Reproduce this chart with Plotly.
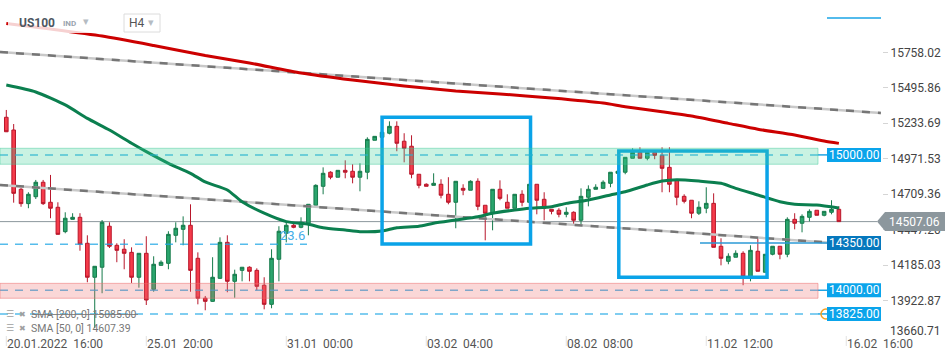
import plotly.graph_objects as go

# ---------------- data ----------------
opens = [15278, 15184, 14746, 14640, 14691, 14798, 14650, 14613, 14433, 14524,
         14539, 14347, 14096, 14170, 14473, 14332, 14303, 14280, 14096, 14273,
         14007, 14184, 14199, 14406, 14450, 14480, 14236, 13941, 13918, 14088,
         14354, 14066, 14147, 14170, 14147, 14037, 13896, 14229, 14421, 14480,
         14465, 14495, 14628, 14768, 14872, 14835, 14886, 14879, 14835, 14872,
         15108, 15130, 15160, 15211, 15101, 15064, 14857, 14783, 14775, 14783,
         14709, 14650, 14753, 14739, 14805, 14628, 14569, 14746, 14650, 14606,
         14709, 14650, 14783, 14672, 14598, 14591, 14561, 14576, 14517, 14687,
         14746, 14753, 14790, 14864, 14872, 14975, 15019, 14975, 15019, 14997,
         14908, 14812, 14694, 14665, 14569, 14606, 14642, 14325, 14214, 14244,
         14273, 14100, 14288, 14133, 14266, 14325, 14266, 14524, 14495, 14539,
         14591, 14554, 14576, 14598]
highs = [15332, 15228, 14756, 14724, 14815, 14815, 14852, 14650, 14576, 14569,
         14569, 14406, 14177, 14519, 14502, 14347, 14377, 14317, 14273, 14399,
         14251, 14221, 14436, 14502, 14546, 14635, 14280, 13958, 14244, 14391,
         14406, 14152, 14170, 14177, 14162, 14096, 14303, 14473, 14502, 14495,
         14539, 14635, 14783, 14908, 14879, 14886, 14960, 14931, 14938, 15130,
         15137, 15167, 15248, 15248, 15160, 15145, 14857, 14790, 14864, 14820,
         14835, 14805, 14783, 14812, 14827, 14628, 14746, 14812, 14709, 14709,
         14739, 14783, 14783, 14724, 14598, 14606, 14613, 14583, 14753, 14775,
         14783, 14812, 14872, 14879, 14982, 15049, 15056, 15019, 15019, 15056,
         15056, 14812, 14709, 14665, 14657, 14761, 14716, 14384, 14273, 14295,
         14288, 14332, 14384, 14266, 14325, 14325, 14539, 14569, 14561, 14598,
         14591, 14583, 14665, 14620]
lows = [15169, 14647, 14617, 14606, 14674, 14630, 14532, 14413, 14421, 14524,
        14292, 14059, 13721, 13978, 14312, 14207, 14155, 14054, 14019, 13891,
        13989, 14184, 14155, 14354, 14332, 13989, 13896, 13852, 13915, 14085,
        13985, 13945, 14066, 14066, 14000, 13859, 13867, 14066, 14354, 14458,
        14458, 14406, 14625, 14709, 14820, 14835, 14827, 14790, 14731, 14820,
        15108, 15130, 15152, 15027, 14945, 14827, 14753, 14768, 14775, 14679,
        14635, 14458, 14702, 14739, 14591, 14369, 14443, 14665, 14606, 14606,
        14620, 14650, 14561, 14517, 14561, 14539, 14539, 14487, 14487, 14620,
        14746, 14753, 14761, 14864, 14857, 14975, 14975, 14960, 14968, 14724,
        14724, 14628, 14642, 14532, 14556, 14569, 14317, 14184, 14192, 14244,
        14037, 14066, 14140, 14133, 14258, 14229, 14244, 14450, 14428, 14509,
        14554, 14546, 14561, 14507]
closes = [15171, 14716, 14640, 14709, 14798, 14640, 14606, 14413, 14532, 14539,
          14340, 14096, 14177, 14502, 14325, 14295, 14273, 14096, 14273, 13928,
          14192, 14207, 14413, 14458, 14480, 14147, 13941, 13918, 14096, 14354,
          14066, 14118, 14170, 14140, 14029, 13896, 14236, 14436, 14480, 14465,
          14502, 14635, 14775, 14864, 14835, 14886, 14872, 14835, 14879, 15115,
          15137, 15167, 15211, 15086, 15049, 14857, 14775, 14768, 14790, 14702,
          14650, 14805, 14739, 14805, 14620, 14569, 14746, 14679, 14606, 14709,
          14650, 14783, 14665, 14606, 14583, 14561, 14576, 14517, 14694, 14746,
          14761, 14798, 14872, 14879, 14982, 15019, 14975, 15019, 14997, 14901,
          14783, 14687, 14657, 14569, 14613, 14642, 14317, 14236, 14251, 14273,
          14100, 14295, 14140, 14266, 14325, 14266, 14524, 14495, 14546, 14583,
          14554, 14583, 14598, 14507.06]

sma200_idx = [0, 6, 13, 20, 27, 33, 40, 47, 54, 61, 67, 74, 81, 84, 89, 93, 98, 102, 107, 111, 113]
sma200_val = [15971, 15930, 15878, 15808, 15734, 15679, 15605, 15553, 15509, 15472, 15450,
              15420, 15383, 15356, 15319, 15287, 15233, 15190, 15147, 15103, 15085]
sma50_idx = [0, 4, 8, 11, 14, 17, 19, 22, 25, 27, 30, 32, 35, 38, 41, 43, 46, 48, 51, 53, 56,
             58, 61, 64, 66, 69, 71, 74, 76, 79, 82, 84, 87, 89, 91, 94, 97, 99, 102, 105,
             107, 110, 113]
sma50_val = [15516, 15465, 15369, 15270, 15184, 15086, 15024, 14938, 14864, 14800, 14741,
             14654, 14569, 14507, 14487, 14462, 14445, 14433, 14438, 14462, 14473, 14495,
             14519, 14543, 14569, 14593, 14606, 14617, 14642, 14667, 14704, 14728, 14778,
             14807, 14817, 14807, 14790, 14753, 14704, 14654, 14635, 14630, 14607.39]

trend_upper_x = [-0.855, 118.7]
trend_upper_y = [15760, 15310]
trend_lower_x = [-0.855, 111.4]
trend_lower_y = [14778, 14353]

box1_idx = [51.0, 71.15]
box1_price = [15278, 14342]
box2_idx = [83.13, 103.25]
box2_price = [15029, 14096]

zone_res = [14931, 15049]
zone_sup = [13941, 14051]
level_values = [15000, 14350, 14000, 13825]
fib_level = 14339.5
last_price = 14507.06

y_ticks = [15758.02, 15495.86, 15233.69, 14971.53, 14709.36, 14447.20, 14185.03, 13922.87]
y_bottom_tick = 13660.71
x_label_idx = [0, 19, 38, 57, 76, 95, 114]
x_labels = ["20.01.2022\u00a0\u00a016:00", "25.01\u00a0\u00a020:00", "31.01\u00a0\u00a000:00",
            "03.02\u00a0\u00a004:00", "08.02\u00a0\u00a008:00", "11.02\u00a0\u00a012:00",
            "16.02\u00a0\u00a016:00"]

# ---------------- layout geometry ----------------
W, H = 950, 361
PR, PB = 68, 25
PW, PH = W - PR, H - PB
Y0, Y1 = 13662.0, 16144.4
X0 = -0.855
X1 = X0 + PW / 7.368
UPP = (Y1 - Y0) / PH  # price units per pixel


def px(xp):
    return xp / PW


def py(yp):
    return 1 - yp / PH


idx = list(range(len(opens)))
fig = go.Figure()

# trend lines (grey base + dark dashes)
for tx, ty in [(trend_upper_x, trend_upper_y), (trend_lower_x, trend_lower_y)]:
    fig.add_trace(go.Scatter(x=tx, y=ty, mode="lines", line=dict(color="#c9c9c9", width=2.5),
                             hoverinfo="skip", showlegend=False))
    fig.add_trace(go.Scatter(x=tx, y=ty, mode="lines",
                             line=dict(color="#767676", width=2.5, dash="8px,8px"),
                             hoverinfo="skip", showlegend=False))

fig.add_trace(go.Candlestick(
    x=idx, open=opens, high=highs, low=lows, close=closes,
    increasing=dict(line=dict(color="#167a4b", width=1), fillcolor="#2aa56d"),
    decreasing=dict(line=dict(color="#b8172b", width=1), fillcolor="#f53b4a"),
    whiskerwidth=0, hoverinfo="skip", showlegend=False))

fig.add_trace(go.Scatter(x=sma200_idx, y=sma200_val, mode="lines",
                         line=dict(color="#cc0000", width=3, shape="spline", smoothing=0.6),
                         hoverinfo="skip", showlegend=False))
fig.add_trace(go.Scatter(x=sma50_idx, y=sma50_val, mode="lines",
                         line=dict(color="#0b7f4f", width=3, shape="spline", smoothing=0.6),
                         hoverinfo="skip", showlegend=False))

shapes = []
# current price line
shapes.append(dict(type="line", xref="paper", yref="y", x0=0, x1=px(877), y0=last_price, y1=last_price,
                   line=dict(color="#8c979d", width=1), layer="below"))
# blue drawing rectangles
for bx, bp in [(box1_idx, box1_price), (box2_idx, box2_price)]:
    shapes.append(dict(type="rect", xref="x", yref="y", x0=bx[0], x1=bx[1], y0=bp[1], y1=bp[0],
                       line=dict(color="#0aa3e8", width=3.5), layer="above"))
# dashed levels
dash_col = "rgba(30,165,228,0.75)"
for lv in [level_values[0], level_values[2], level_values[3]]:
    shapes.append(dict(type="line", xref="paper", yref="y", x0=0, x1=px(818), y0=lv, y1=lv,
                       line=dict(color=dash_col, width=1.5, dash="8px,7px"), layer="above"))
    shapes.append(dict(type="line", xref="paper", yref="y", x0=px(818), x1=px(827), y0=lv, y1=lv,
                       line=dict(color="#1ea5e4", width=1.5), layer="above"))
shapes.append(dict(type="line", xref="paper", yref="y", x0=0, x1=px(307), y0=fib_level, y1=fib_level,
                   line=dict(color=dash_col, width=1.5, dash="8px,7px"), layer="above"))
shapes.append(dict(type="line", xref="paper", yref="y", x0=px(700), x1=px(827),
                   y0=level_values[1], y1=level_values[1],
                   line=dict(color="#2b9ad6", width=1.5), layer="above"))
# zones
shapes.append(dict(type="rect", xref="paper", yref="y", x0=0, x1=px(818), y0=zone_res[0], y1=zone_res[1],
                   fillcolor="rgba(60,208,152,0.28)", line=dict(color="rgba(60,200,150,0.45)", width=1),
                   layer="above"))
shapes.append(dict(type="rect", xref="paper", yref="y", x0=0, x1=px(818), y0=zone_sup[0], y1=zone_sup[1],
                   fillcolor="rgba(238,110,110,0.28)", line=dict(color="rgba(238,110,110,0.5)", width=1),
                   layer="above"))
# orange marker near 13825
shapes.append(dict(type="circle", xref="paper", yref="paper", x0=px(821), x1=px(831), y0=py(319), y1=py(309),
                   line=dict(color="#f5a020", width=1.5), layer="above"))
# level label boxes
box_cols = ["#0aa4eb", "#0678bd", "#0aa4eb", "#0aa4eb"]
for lv, bc in zip(level_values, box_cols):
    shapes.append(dict(type="rect", xref="paper", yref="y", x0=px(827), x1=px(881),
                       y0=lv - 7 * UPP, y1=lv + 7 * UPP, fillcolor=bc, line=dict(width=0), layer="above"))
# top-right short blue line
shapes.append(dict(type="line", xref="paper", yref="paper", x0=px(827), x1=px(881), y0=py(18), y1=py(18),
                   line=dict(color="#1aa5e6", width=1.5), layer="above"))
# current price tag
lp_y = 221.6
tag_path = (f"M {px(877)},{py(lp_y)} L {px(885)},{py(lp_y-9.5)} L {px(945)},{py(lp_y-9.5)} "
            f"L {px(945)},{py(lp_y+9.5)} L {px(885)},{py(lp_y+9.5)} Z")
shapes.append(dict(type="path", xref="paper", yref="paper", path=tag_path,
                   fillcolor="#8c979d", line=dict(width=0), layer="above"))
# header backdrop and H4 box
shapes.append(dict(type="rect", xref="paper", yref="paper", x0=px(8), x1=px(95), y0=py(33), y1=py(13),
                   fillcolor="rgba(255,255,255,0.82)", line=dict(width=0), layer="above"))
shapes.append(dict(type="rect", xref="paper", yref="paper", x0=px(124), x1=px(160), y0=py(32), y1=py(14),
                   fillcolor="white", line=dict(color="#dcdcdc", width=1), layer="above"))
# strike line on SMA200 legend
shapes.append(dict(type="line", xref="paper", yref="paper", x0=px(32), x1=px(138), y0=py(314.5), y1=py(314.5),
                   line=dict(color="#8a8a8a", width=1), layer="above"))
# x tick marks
for i in x_label_idx:
    xp = 6.3 + 7.368 * i
    shapes.append(dict(type="line", xref="paper", yref="paper", x0=px(xp), x1=px(xp), y0=py(336), y1=py(346),
                       line=dict(color="#e2e2e2", width=1), layer="above"))

ann = []
F = "Roboto"
for lv in level_values:
    ann.append(dict(xref="paper", yref="y", x=px(854), y=lv, text=f"{lv:.2f}", showarrow=False,
                    font=dict(family=F, size=12, color="white"), xanchor="center", yanchor="middle"))
ann.append(dict(xref="paper", yref="paper", x=px(914), y=py(lp_y), text=f"{last_price:.2f}", showarrow=False,
                font=dict(family=F, size=12, color="white"), xanchor="center", yanchor="middle"))
ann.append(dict(xref="paper", yref="paper", x=px(888), y=py(331), text=f"{y_bottom_tick:.2f}", showarrow=False,
                font=dict(family=F, size=12, color="#444"), xanchor="left", yanchor="middle"))
for i, lab in zip(x_label_idx, x_labels):
    xp = 6.3 + 7.368 * i
    ann.append(dict(xref="paper", yref="paper", x=px(xp - 1), y=py(344), text=lab, showarrow=False,
                    font=dict(family=F, size=12, color="#555"), xanchor="left", yanchor="middle"))
ann.append(dict(xref="paper", yref="paper", x=px(278), y=py(236), text="23.6", showarrow=False,
                font=dict(family=F, size=13, color="#45aee8"), xanchor="left", yanchor="middle"))
ann.append(dict(xref="paper", yref="paper", x=px(17), y=py(23), text="<b>US100</b>", showarrow=False,
                font=dict(family=F, size=12, color="#4d5761"), xanchor="left", yanchor="middle"))
ann.append(dict(xref="paper", yref="paper", x=px(61), y=py(24), text="<b>IND</b>", showarrow=False,
                font=dict(family=F, size=8, color="#9aa4ae"), xanchor="left", yanchor="middle"))
ann.append(dict(xref="paper", yref="paper", x=px(81), y=py(22), text="▾", showarrow=False,
                font=dict(family="DejaVu Sans", size=11, color="#b5bcc3"), xanchor="left", yanchor="middle"))
ann.append(dict(xref="paper", yref="paper", x=px(127), y=py(23), text="H4", showarrow=False,
                font=dict(family=F, size=12, color="#555"), xanchor="left", yanchor="middle"))
ann.append(dict(xref="paper", yref="paper", x=px(146), y=py(23), text="▾", showarrow=False,
                font=dict(family="DejaVu Sans", size=11, color="#b5bcc3"), xanchor="left", yanchor="middle"))
for yy, txt in [(314, "SMA [200, 0] 15085.00"), (328, "SMA [50, 0] 14607.39")]:
    ann.append(dict(xref="paper", yref="paper", x=px(4), y=py(yy), text="☰", showarrow=False,
                    font=dict(family="DejaVu Sans", size=9, color="#a0a0a0"), xanchor="left", yanchor="middle"))
    ann.append(dict(xref="paper", yref="paper", x=px(17), y=py(yy), text="✖", showarrow=False,
                    font=dict(family="DejaVu Sans", size=8, color="#a0a0a0"), xanchor="left", yanchor="middle"))
    ann.append(dict(xref="paper", yref="paper", x=px(29), y=py(yy), text=txt, showarrow=False,
                    font=dict(family=F, size=10.5, color="#777"), xanchor="left", yanchor="middle"))

fig.update_layout(
    width=W, height=H, margin=dict(l=0, r=PR, t=0, b=PB),
    paper_bgcolor="white", plot_bgcolor="white",
    showlegend=False, shapes=shapes, annotations=ann,
    xaxis=dict(range=[X0, X1], showgrid=False, zeroline=False, showticklabels=False, ticks="",
               rangeslider=dict(visible=False), fixedrange=True),
    yaxis=dict(range=[Y0, Y1], side="right", showgrid=False, zeroline=False,
               tickvals=y_ticks, ticktext=[f"{v:.2f}" for v in y_ticks],
               ticks="outside", ticklen=5, tickcolor="#d5d5d5",
               tickfont=dict(family=F, size=12, color="#444"), fixedrange=True),
)
fig.write_html("out.html", config={"displayModeBar": False},
               post_script="document.body.style.margin='0px';document.body.style.overflow='hidden';")
